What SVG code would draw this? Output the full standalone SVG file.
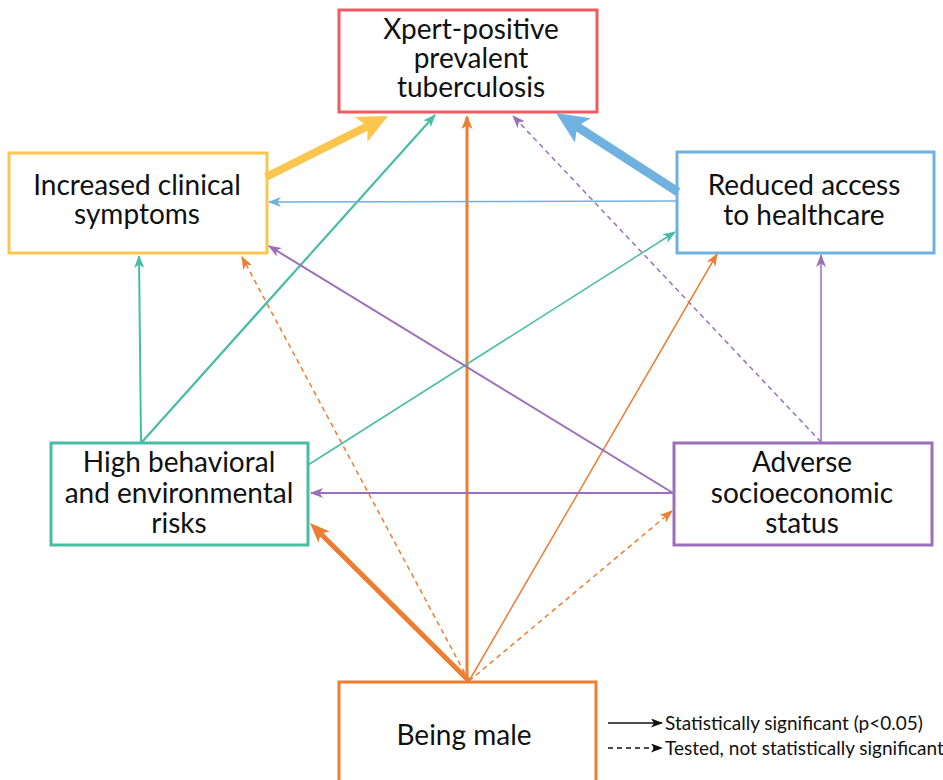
<svg xmlns="http://www.w3.org/2000/svg" width="943" height="780" viewBox="0 0 943 780">
<style>
.box{fill:#ffffff;stroke-width:3}
.lbl{font-family:Lato,"Open Sans","Liberation Sans",sans-serif;font-size:28px;fill:#111111;text-anchor:middle}
.leg{font-family:Lato,"Open Sans","Liberation Sans",sans-serif;font-size:19px;fill:#111111}
.c{fill:none}
.dash{stroke-dasharray:5 4}
</style>
<defs>
<marker id="ms-teal" viewBox="0 0 13 10" markerWidth="13" markerHeight="10" refX="12" refY="5" orient="auto" markerUnits="userSpaceOnUse"><path d="M0,0 L13,5 L0,10 L3.5,5 z" fill="#47bda5"/></marker>
<marker id="ms-orange" viewBox="0 0 13 10" markerWidth="13" markerHeight="10" refX="12" refY="5" orient="auto" markerUnits="userSpaceOnUse"><path d="M0,0 L13,5 L0,10 L3.5,5 z" fill="#ed7d31"/></marker>
<marker id="ms-purple" viewBox="0 0 13 10" markerWidth="13" markerHeight="10" refX="12" refY="5" orient="auto" markerUnits="userSpaceOnUse"><path d="M0,0 L13,5 L0,10 L3.5,5 z" fill="#9b6fbb"/></marker>
<marker id="ms-blue" viewBox="0 0 13 10" markerWidth="13" markerHeight="10" refX="12" refY="5" orient="auto" markerUnits="userSpaceOnUse"><path d="M0,0 L13,5 L0,10 L3.5,5 z" fill="#6fb2e0"/></marker>
<marker id="mm-orange" viewBox="0 0 14 11" markerWidth="14" markerHeight="11" refX="12" refY="5.5" orient="auto" markerUnits="userSpaceOnUse"><path d="M0,0 L14,5.5 L0,11 L3.5,5.5 z" fill="#ed7d31"/></marker>
<marker id="mb-orange" viewBox="0 0 20 16" markerWidth="20" markerHeight="16" refX="7" refY="8" orient="auto" markerUnits="userSpaceOnUse"><path d="M0,0 L20,8 L0,16 L5,8 z" fill="#ed7d31"/></marker>
<marker id="mb-yellow" viewBox="0 0 30 28" markerWidth="30" markerHeight="28" refX="9" refY="14" orient="auto" markerUnits="userSpaceOnUse"><path d="M0,0 L30,14 L0,28 L7,14 z" fill="#fcc54e"/></marker>
<marker id="mb-blue" viewBox="0 0 32 29" markerWidth="32" markerHeight="29" refX="9" refY="14.5" orient="auto" markerUnits="userSpaceOnUse"><path d="M0,0 L32,14.5 L0,29 L7,14.5 z" fill="#6fb2e0"/></marker>
<marker id="m-black" viewBox="0 0 12 9" markerWidth="12" markerHeight="9" refX="11" refY="4.5" orient="auto" markerUnits="userSpaceOnUse"><path d="M0,0 L12,4.5 L0,9 L3,4.5 z" fill="#111111"/></marker>
</defs>
<rect width="943" height="780" fill="#ffffff"/>
<g id="node-tb">
<rect class="box" x="339" y="10" width="258" height="102" stroke="#f05a61"/>
<text class="lbl" x="471" y="39">Xpert-positive</text>
<text class="lbl" x="471" y="68">prevalent</text>
<text class="lbl" x="471" y="97">tuberculosis</text>
</g>
<g id="node-symptoms">
<rect class="box" x="9" y="153" width="258" height="100" stroke="#fcc54e"/>
<text class="lbl" x="137" y="195">Increased clinical</text>
<text class="lbl" x="137" y="224">symptoms</text>
</g>
<g id="node-access">
<rect class="box" x="677" y="152" width="257" height="101" stroke="#6fb2e0"/>
<text class="lbl" x="804" y="195">Reduced access</text>
<text class="lbl" x="804" y="225">to healthcare</text>
</g>
<g id="node-risks">
<rect class="box" x="51" y="443" width="257" height="102" stroke="#47bda5"/>
<text class="lbl" x="179" y="472">High behavioral</text>
<text class="lbl" x="179" y="503">and environmental</text>
<text class="lbl" x="179" y="533">risks</text>
</g>
<g id="node-ses">
<rect class="box" x="674" y="443" width="258" height="102" stroke="#9b6fbb"/>
<text class="lbl" x="802" y="472">Adverse</text>
<text class="lbl" x="802" y="503">socioeconomic</text>
<text class="lbl" x="802" y="533">status</text>
</g>
<g id="node-male">
<rect class="box" x="339" y="682" width="257" height="120" stroke="#ed7d31"/>
<text class="lbl" x="464" y="745">Being male</text>
</g>
<g id="connectors">
<line class="c" x1="142" y1="442" x2="435" y2="115" stroke="#47bda5" stroke-width="2.2" marker-end="url(#ms-teal)"/>
<line class="c" x1="467" y1="681" x2="467" y2="117" stroke="#ed7d31" stroke-width="3" marker-end="url(#mm-orange)"/>
<line class="c dash" x1="821" y1="442" x2="513" y2="116" stroke="#9b6fbb" stroke-width="1.5" marker-end="url(#ms-purple)"/>
<line class="c" x1="676" y1="201" x2="269" y2="202" stroke="#6fb2e0" stroke-width="1.5" marker-end="url(#ms-blue)"/>
<line class="c" x1="308" y1="465" x2="675" y2="232" stroke="#47bda5" stroke-width="1.5" marker-end="url(#ms-teal)"/>
<line class="c" x1="469" y1="681" x2="717" y2="254" stroke="#ed7d31" stroke-width="1.5" marker-end="url(#ms-orange)"/>
<line class="c" x1="821" y1="442" x2="821" y2="255" stroke="#9b6fbb" stroke-width="1.5" marker-end="url(#ms-purple)"/>
<line class="c" x1="141" y1="442" x2="139" y2="256" stroke="#47bda5" stroke-width="2" marker-end="url(#ms-teal)"/>
<line class="c dash" x1="469" y1="681" x2="242" y2="257" stroke="#ed7d31" stroke-width="1.5" marker-end="url(#ms-orange)"/>
<line class="c" x1="673" y1="493" x2="269" y2="246" stroke="#9b6fbb" stroke-width="2" marker-end="url(#ms-purple)"/>
<line class="c" x1="673" y1="493" x2="311" y2="493" stroke="#9b6fbb" stroke-width="2" marker-end="url(#ms-purple)"/>
<line class="c dash" x1="469" y1="681" x2="672" y2="511" stroke="#ed7d31" stroke-width="1.5" marker-end="url(#ms-orange)"/>
<line class="c" x1="266" y1="177" x2="369.2" y2="125.4" stroke="#fcc54e" stroke-width="8" marker-end="url(#mb-yellow)"/>
<line class="c" x1="678" y1="192" x2="575.3" y2="125.5" stroke="#6fb2e0" stroke-width="9" marker-end="url(#mb-blue)"/>
<line class="c" x1="469" y1="681" x2="319.2" y2="532.2" stroke="#ed7d31" stroke-width="5" marker-end="url(#mb-orange)"/>
</g>
<g id="legend">
<line x1="608" y1="723" x2="662" y2="723" stroke="#111111" stroke-width="1.5" marker-end="url(#m-black)"/>
<line class="dash" x1="608" y1="748" x2="662" y2="748" stroke="#111111" stroke-width="1.5" marker-end="url(#m-black)"/>
<text class="leg" x="665" y="730">Statistically significant (p&lt;0.05)</text>
<text class="leg" x="665" y="755">Tested, not statistically significant</text>
</g>
</svg>
